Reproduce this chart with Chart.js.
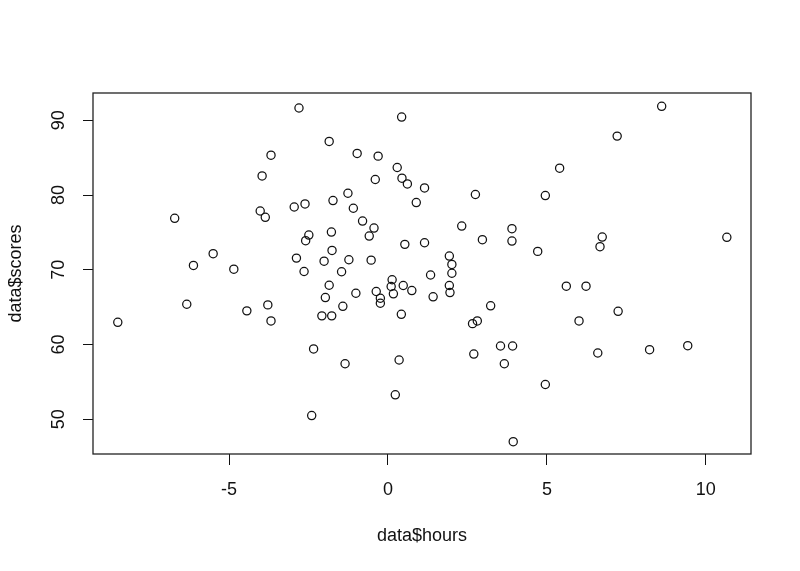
<!DOCTYPE html>
<html>
<head>
<meta charset="utf-8">
<script src="https://cdn.jsdelivr.net/npm/chart.js@4/dist/chart.umd.min.js"></script>
<style>
  html, body { margin: 0; padding: 0; background: #fff; }
  #wrap { width: 800px; height: 571px; }
</style>
</head>
<body>
<div id="wrap"><canvas id="plot" width="800" height="571"></canvas></div>
<script>
// data: hours (x) and scores (y)
const hours = [
  -8.50, -6.33, -6.12, -6.71, -5.50, -4.85, -4.44, -3.96, -4.02, -3.86,
  -3.78, -3.68, -3.68, -2.95, -2.61, -2.80, -2.88, -2.64, -2.59, -2.49,
  -2.40, -2.34, -2.08, -1.77, -1.97, -1.85, -2.01, -1.78, -1.76, -1.73,
  -1.85, -1.46, -1.42, -1.35, -1.26, -1.09, -0.97, -1.23, -1.01, -0.80,
  -0.59, -0.53, -0.44, -0.37, -0.24, -0.24, -0.40, -0.31, 0.13, 0.10,
  0.17, 0.29, 0.44, 0.61, 0.43, 0.23, 0.35, 0.42, 0.48, 0.53,
  0.75, 0.89, 1.15, 1.15, 1.34, 1.42, 1.93, 1.95, 1.93, 2.01,
  2.01, 2.32, 2.75, 2.66, 2.81, 2.70, 2.97, 3.23, 3.54, 3.92,
  3.66, 3.90, 3.90, 3.94, 4.71, 4.95, 4.95, 5.40, 5.61, 6.23,
  6.01, 6.60, 6.67, 6.74, 7.21, 7.24, 8.23, 8.61, 9.43, 10.66
];
const scores = [
  62.97, 65.38, 70.58, 76.89, 72.15, 70.08, 64.50, 82.56, 77.87, 77.02,
  65.30, 63.15, 85.34, 78.40, 78.81, 91.65, 71.56, 69.77, 73.89, 74.64,
  50.48, 59.40, 63.83, 63.83, 66.28, 67.93, 71.15, 75.05, 72.59, 79.26,
  87.18, 69.73, 65.11, 57.42, 80.24, 78.23, 85.57, 71.34, 66.86, 76.52,
  74.51, 71.29, 75.58, 67.09, 66.19, 65.52, 82.08, 85.21, 68.66, 67.76,
  66.78, 83.69, 82.26, 81.49, 90.44, 53.26, 57.92, 64.04, 67.89, 73.40,
  67.22, 78.99, 80.95, 73.62, 69.30, 66.38, 67.89, 66.95, 71.83, 70.71,
  69.53, 75.85, 80.07, 62.79, 63.15, 58.72, 74.03, 65.17, 59.80, 59.80,
  57.42, 75.50, 73.84, 46.99, 72.46, 79.93, 54.64, 83.60, 67.80, 67.80,
  63.15, 58.86, 73.09, 74.38, 87.89, 64.44, 59.30, 91.88, 59.84, 74.34
];
const xTicks = [-5, 0, 5, 10];
const yTicks = [50, 60, 70, 80, 90];

const points = hours.map((h, i) => ({ x: h, y: scores[i] }));

// box around the plotting region, like R's default plot frame
const boxPlugin = {
  id: 'box',
  afterDraw(chart) {
    const { ctx, chartArea: a } = chart;
    ctx.save();
    ctx.strokeStyle = '#222';
    ctx.lineWidth = 1.3;
    ctx.strokeRect(a.left, a.top, a.right - a.left, a.bottom - a.top);
    ctx.restore();
  }
};

const font = { family: 'Liberation Sans, Arial, sans-serif', size: 18 };

new Chart(document.getElementById('plot'), {
  type: 'scatter',
  data: {
    datasets: [{
      data: points,
      pointStyle: 'circle',
      pointRadius: 4.1,
      pointBorderWidth: 1.25,
      pointBorderColor: '#111',
      pointBackgroundColor: 'rgba(0,0,0,0)',
      pointHoverRadius: 4.1
    }]
  },
  options: {
    responsive: false,
    animation: false,
    events: [],
    layout: { padding: { top: 93, right: 49, left: 0, bottom: 0 } },
    plugins: { legend: { display: false }, tooltip: { enabled: false } },
    scales: {
      x: {
        type: 'linear',
        min: -9.28,
        max: 11.42,
        afterBuildTicks: s => { s.ticks = xTicks.map(v => ({ value: v })); },
        afterFit: s => { s.height = 117; },
        grid: { drawOnChartArea: false, tickLength: 11, tickColor: '#111', tickWidth: 1 },
        border: { display: false },
        ticks: { color: '#111', font: font, padding: 14, maxRotation: 0 },
        title: { display: true, text: 'data$hours', color: '#111', font: font, padding: { top: 0, bottom: 24 } }
      },
      y: {
        type: 'linear',
        min: 45.34,
        max: 93.66,
        afterBuildTicks: s => { s.ticks = yTicks.map(v => ({ value: v })); },
        afterFit: s => { s.width = 93; },
        grid: { drawOnChartArea: false, tickLength: 10, tickColor: '#111', tickWidth: 1 },
        border: { display: false },
        ticks: { color: '#111', font: font, padding: 14, minRotation: 90, maxRotation: 90, crossAlign: 'center' },
        title: { display: true, text: 'data$scores', color: '#111', font: font, padding: { top: 5, bottom: 0 } }
      }
    }
  },
  plugins: [boxPlugin]
});
</script>
</body>
</html>
